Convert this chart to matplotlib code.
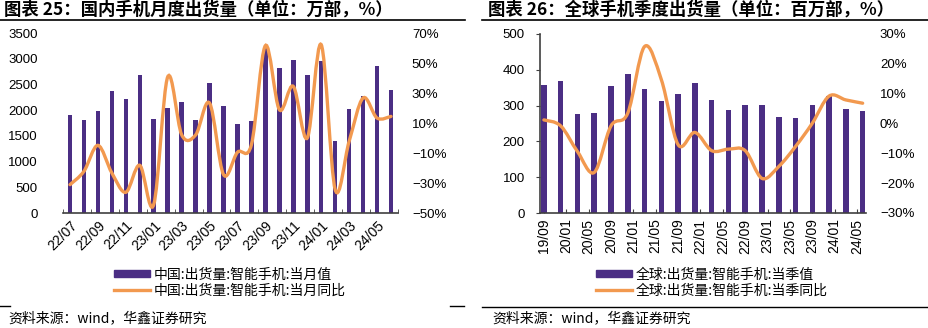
import matplotlib
matplotlib.use("Agg")
import matplotlib.pyplot as plt
import numpy as np
from matplotlib.lines import Line2D
from matplotlib.patches import Patch, PathPatch
from matplotlib.path import Path
from matplotlib.ticker import FuncFormatter

plt.rcParams["font.family"] = ["Liberation Sans", "Noto Sans CJK SC", "DejaVu Sans"]
CJK = ["Noto Sans CJK SC", "DejaVu Sans"]

PURPLE = "#4B2E84"
ORANGE = "#F2994F"

# China monthly smartphone shipments (10k units) and YoY (%)
cn_months = ["22/07", "22/08", "22/09", "22/10", "22/11", "22/12",
             "23/01", "23/02", "23/03", "23/04", "23/05", "23/06",
             "23/07", "23/08", "23/09", "23/10", "23/11", "23/12",
             "24/01", "24/02", "24/03", "24/04", "24/05", "24/06"]
cn_units = [1915, 1815, 1990, 2378, 2223, 2690, 1828, 2041, 2158, 1815, 2527, 2087,
            1730, 1795, 3208, 2819, 2968, 2690, 2949, 1406, 2022, 2268, 2864, 2385]
cn_yoy = [-31.1, -22.2, -4.9, -23.3, -36.2, -18.2, -44.4, 40.7, 2.2, 2.0, 23.3, -24.4,
          -9.5, -4.4, 61.6, 18.9, 34.4, 0.0, 62.2, -34.4, -2.2, 26.7, 13.3, 14.4]

# Global quarterly smartphone shipments (million units) and YoY (%)
gl_quarters = ["19/09", "19/12", "20/03", "20/06", "20/09", "20/12", "21/03", "21/06",
               "21/09", "21/12", "22/03", "22/06", "22/09", "22/12", "23/03", "23/06",
               "23/09", "23/12", "24/03", "24/06"]
gl_units = [358, 370, 276, 279, 355, 387, 346, 314, 333, 363,
            315, 287, 302, 301, 268, 265, 303, 327, 290, 286]
gl_yoy = [1.2, -0.8, -9.4, -16.4, -0.8, 3.5, 25.8, 14.7, -7.1, -3.0,
          -9.1, -8.6, -9.1, -18.4, -14.4, -7.7, 0.1, 9.2, 7.9, 6.8]
gl_tick_labels = ["19/09", "20/01", "20/05", "20/09", "21/01", "21/05", "21/09", "22/01",
                  "22/05", "22/09", "23/01", "23/05", "23/09", "24/01", "24/05"]


def smooth_path(x, y):
    # cubic Bezier segments through every point (Excel-style smoothed line)
    pts = np.column_stack([x, y]).astype(float)
    ext = np.vstack([pts[0], pts, pts[-1]])
    verts = [pts[0]]
    codes = [Path.MOVETO]
    for i in range(len(pts) - 1):
        p0, p1, p2, p3 = ext[i], ext[i + 1], ext[i + 2], ext[i + 3]
        verts += [p1 + (p2 - p0) / 6, p2 - (p3 - p1) / 6, p2]
        codes += [Path.CURVE4] * 3
    return Path(verts, codes)


def pct(v, _):
    return f"{v:.0f}%".replace("-", "\u2212")


W, H = 929, 328
fig = plt.figure(figsize=(W / 100, H / 100), dpi=100)


def box(x0, y0, x1, y1):
    return [x0 / W, 1 - y1 / H, (x1 - x0) / W, (y1 - y0) / H]


def hline(x0, x1, y, lw=1.2):
    fig.add_artist(Line2D([x0 / W, x1 / W], [1 - y / H, 1 - y / H],
                          color="black", lw=lw, transform=fig.transFigure))


# ---------- left: China monthly ----------
ax1 = fig.add_axes(box(63, 33, 398, 213))
xi = np.arange(len(cn_months))
ax1.bar(xi, cn_units, width=0.32, color=PURPLE, zorder=2)
ax1.set_xlim(-0.5, len(cn_months) - 0.5)
ax1.set_ylim(0, 3500)
ax1.set_yticks(range(0, 3501, 500))
ax1.set_xticks(xi[::2])
ax1.set_xticklabels(cn_months[::2], rotation=45, ha="right", rotation_mode="anchor", fontsize=10)
ax1.set_xticks(np.arange(-0.5, len(cn_months), 2), minor=True)
ax1.tick_params(axis="x", which="major", length=0, pad=4)
ax1.tick_params(axis="x", which="minor", direction="in", length=3, color="#404040")
ax1.tick_params(axis="y", length=0, labelsize=9.5, pad=18)
for s in ["top", "right", "left"]:
    ax1.spines[s].set_visible(False)
ax1.spines["bottom"].set_color("#404040")
ax1.spines["bottom"].set_linewidth(1.2)

ax1r = ax1.twinx()
ax1r.set_ylim(-50, 70)
ax1r.set_yticks(range(-50, 71, 20))
ax1r.yaxis.set_major_formatter(FuncFormatter(pct))
ax1r.tick_params(axis="y", length=0, labelsize=9.5, pad=10)
for s in ax1r.spines.values():
    s.set_visible(False)
ax1r.add_patch(PathPatch(smooth_path(xi, cn_yoy), fc="none", ec=ORANGE, lw=2.4,
                         capstyle="round", zorder=3))

ax1.legend(handles=[Patch(color=PURPLE, label="中国:出货量:智能手机:当月值"),
                    Line2D([], [], color=ORANGE, lw=2.4, label="中国:出货量:智能手机:当月同比")],
           loc="upper center", bbox_to_anchor=(230 / W, 1 - 255 / H),
           bbox_transform=fig.transFigure, frameon=False, prop={"family": CJK, "size": 10},
           handlelength=2.6, handleheight=0.45, handletextpad=0.3, labelspacing=0.15)

# ---------- right: global quarterly ----------
ax2 = fig.add_axes(box(540, 34, 866, 213))
qx = np.arange(len(gl_quarters)) * 3
ax2.bar(qx, gl_units, width=1.0, color=PURPLE, zorder=2)
ax2.set_xlim(-0.7, 57.6)
ax2.set_ylim(0, 500)
ax2.set_yticks(range(0, 501, 100))
tx = np.arange(len(gl_tick_labels)) * 4
ax2.set_xticks(tx)
ax2.set_xticklabels(gl_tick_labels, rotation=90, fontsize=10)
ax2.tick_params(axis="x", direction="in", length=3, color="#404040", pad=4)
ax2.tick_params(axis="y", direction="out", length=3, color="#404040", labelsize=9.5, pad=8)
for s in ["top", "right"]:
    ax2.spines[s].set_visible(False)
for s in ["bottom", "left"]:
    ax2.spines[s].set_color("#404040")
    ax2.spines[s].set_linewidth(1.2)

ax2r = ax2.twinx()
ax2r.set_ylim(-30, 30)
ax2r.set_yticks(range(-30, 31, 10))
ax2r.yaxis.set_major_formatter(FuncFormatter(pct))
ax2r.tick_params(axis="y", length=0, labelsize=9.5, pad=10)
for s in ax2r.spines.values():
    s.set_visible(False)
ax2r.add_patch(PathPatch(smooth_path(qx, gl_yoy), fc="none", ec=ORANGE, lw=2.4,
                         capstyle="round", zorder=3))

ax2.legend(handles=[Patch(color=PURPLE, label="全球:出货量:智能手机:当季值"),
                    Line2D([], [], color=ORANGE, lw=2.4, label="全球:出货量:智能手机:当季同比")],
           loc="upper center", bbox_to_anchor=(712 / W, 1 - 255 / H),
           bbox_transform=fig.transFigure, frameon=False, prop={"family": CJK, "size": 10},
           handlelength=2.6, handleheight=0.45, handletextpad=0.3, labelspacing=0.15)

# ---------- titles, rules and source notes ----------
fig.text(4 / W, 1 - 10 / H, "图表 25：国内手机月度出货量（单位：万部，%）", family=CJK,
         fontsize=12.5, fontweight="bold", va="center", ha="left")
fig.text(488 / W, 1 - 10 / H, "图表 26：全球手机季度出货量（单位：百万部，%）", family=CJK,
         fontsize=12.5, fontweight="bold", va="center", ha="left")
hline(0, 465, 20)
hline(482, 929, 20)
hline(0, 10, 306, lw=1)
hline(450, 464, 306, lw=1)
hline(482, 929, 307, lw=1)
fig.text(8 / W, 1 - 318 / H, "资料来源：wind，华鑫证券研究", family=CJK, fontsize=10,
         va="center", ha="left")
fig.text(492 / W, 1 - 318 / H, "资料来源：wind，华鑫证券研究", family=CJK, fontsize=10,
         va="center", ha="left")

fig.savefig("out.png", dpi=100)
